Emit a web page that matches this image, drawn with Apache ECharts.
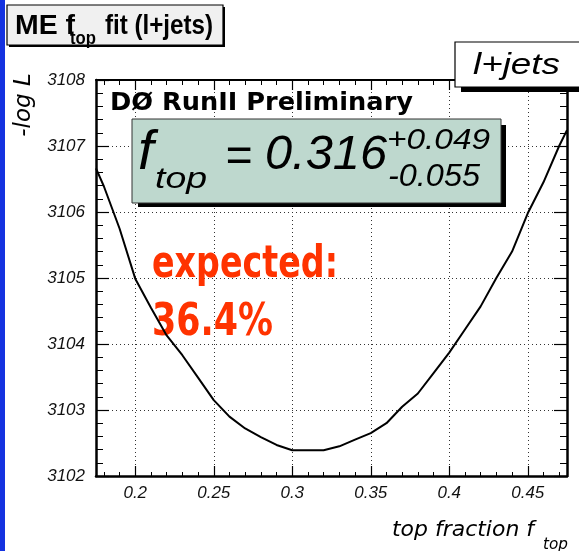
<!DOCTYPE html>
<html>
<head>
<meta charset="utf-8">
<script src="https://cdn.jsdelivr.net/npm/echarts@6/dist/echarts.min.js"></script>
<style>
  html, body { margin: 0; padding: 0; background: #fff; }
  #chart { width: 579px; height: 551px; }
</style>
</head>
<body>
<div id="chart"></div>
<script>
// Likelihood scan: -log L versus the top fraction f_top (l+jets channel)
const fTop = [0.175, 0.18, 0.19, 0.20, 0.21, 0.22, 0.23, 0.24, 0.25, 0.26, 0.27, 0.28, 0.29,
              0.30, 0.31, 0.32, 0.33, 0.34, 0.35, 0.36, 0.37, 0.38, 0.39, 0.40, 0.41, 0.42,
              0.43, 0.44, 0.45, 0.46, 0.47, 0.475];
const negLogL = [3106.66, 3106.39, 3105.75, 3104.99, 3104.55, 3104.13, 3103.83, 3103.49, 3103.15,
                 3102.90, 3102.72, 3102.59, 3102.47, 3102.39, 3102.39, 3102.39, 3102.45, 3102.55,
                 3102.65, 3102.80, 3103.05, 3103.25, 3103.56, 3103.87, 3104.22, 3104.57, 3105.00,
                 3105.40, 3105.98, 3106.45, 3107.00, 3107.24];

const xRange = [0.175, 0.475];
const yRange = [3102, 3108];
const xTickLabels = [0.2, 0.25, 0.3, 0.35, 0.4, 0.45];
const yTickLabels = [3102, 3103, 3104, 3105, 3106, 3107, 3108];
const xMinorTicks = [0.18, 0.19, 0.21, 0.22, 0.23, 0.24, 0.26, 0.27, 0.28, 0.29, 0.31, 0.32,
                     0.33, 0.34, 0.36, 0.37, 0.38, 0.39, 0.41, 0.42, 0.43, 0.44, 0.46, 0.47];

const chart = echarts.init(document.getElementById('chart'), null, { renderer: 'canvas' });

// text helper: squeeze/stretch a string horizontally to a given width (null keeps natural width)
const measureCtx = document.createElement('canvas').getContext('2d');
function fitText(str, font, left, cy, width, fill, z) {
  measureCtx.font = font;
  const w = measureCtx.measureText(str).width || 1;
  return {
    type: 'text', x: left, y: cy, scaleX: width ? width / w : 1, z: z || 10,
    style: { text: str, font: font, fill: fill || '#000', align: 'left', verticalAlign: 'middle' }
  };
}

const HELV_I = '"Liberation Sans", Arial, Helvetica, sans-serif';
const COMIC = '"Comic Sans MS", "DejaVu Sans", sans-serif';
const dotted = { type: [1, 3], color: '#333', width: 1 };

const baseX = { type: 'value', min: xRange[0], max: xRange[1], gridIndex: 0 };
const baseY = { type: 'value', min: yRange[0], max: yRange[1], interval: 1, gridIndex: 0 };

const option = {
  animation: false,
  backgroundColor: '#fff',
  grid: { left: 96, right: 12, top: 80, bottom: 75, containLabel: false },
  xAxis: [
    Object.assign({}, baseX, {
      position: 'bottom',
      axisLine: { show: true, onZero: false, lineStyle: { color: '#000', width: 2.5 } },
      axisTick: { show: true, inside: true, length: 10, customValues: xTickLabels, lineStyle: { color: '#000', width: 1.2 } },
      axisLabel: {
        show: true, customValues: xTickLabels, margin: 9, color: '#111',
        fontFamily: HELV_I, fontStyle: 'italic', fontSize: 17,
        formatter: v => String(+v.toFixed(3))
      },
      splitLine: { show: true, lineStyle: dotted }
    }),
    Object.assign({}, baseX, {
      position: 'bottom',
      axisLine: { show: false, onZero: false },
      axisTick: { show: true, inside: true, length: 4, customValues: xMinorTicks, lineStyle: { color: '#000', width: 1 } },
      axisLabel: { show: false },
      splitLine: { show: false }
    }),
    Object.assign({}, baseX, {
      position: 'top',
      axisLine: { show: true, onZero: false, lineStyle: { color: '#000', width: 2 } },
      axisTick: { show: true, inside: true, length: 10, customValues: xTickLabels, lineStyle: { color: '#000', width: 1.2 } },
      axisLabel: { show: false },
      splitLine: { show: false }
    }),
    Object.assign({}, baseX, {
      position: 'top',
      axisLine: { show: false, onZero: false },
      axisTick: { show: true, inside: true, length: 5, customValues: xMinorTicks, lineStyle: { color: '#000', width: 1 } },
      axisLabel: { show: false },
      splitLine: { show: false }
    })
  ],
  yAxis: [
    Object.assign({}, baseY, {
      position: 'left',
      axisLine: { show: true, onZero: false, lineStyle: { color: '#000', width: 2.5 } },
      axisTick: { show: true, inside: true, length: 13, lineStyle: { color: '#000', width: 1.2 } },
      minorTick: { show: true, splitNumber: 5, length: 7, lineStyle: { color: '#000', width: 1 } },
      axisLabel: {
        show: true, margin: 11, color: '#111',
        fontFamily: HELV_I, fontStyle: 'italic', fontSize: 17,
        formatter: v => (yTickLabels.indexOf(v) >= 0 ? String(v) : '')
      },
      splitLine: { show: true, lineStyle: dotted }
    }),
    Object.assign({}, baseY, {
      position: 'right',
      axisLine: { show: true, onZero: false, lineStyle: { color: '#000', width: 2.5 } },
      axisTick: { show: true, inside: true, length: 13, lineStyle: { color: '#000', width: 1.2 } },
      minorTick: { show: true, splitNumber: 5, length: 7, lineStyle: { color: '#000', width: 1 } },
      axisLabel: { show: false },
      splitLine: { show: false }
    })
  ],
  series: [{
    type: 'line',
    xAxisIndex: 0, yAxisIndex: 0,
    data: fTop.map((x, i) => [x, negLogL[i]]),
    smooth: false,
    symbol: 'none',
    clip: true,
    z: 5,
    lineStyle: { color: '#000', width: 2 }
  }],
  graphic: [
    // blue border strip on the left edge
    { type: 'rect', shape: { x: 0, y: 0, width: 5, height: 551 }, style: { fill: '#1432e0' }, z: 20 },

    // title box
    { type: 'rect', shape: { x: 9, y: 7, width: 216, height: 40 }, style: { fill: '#000' }, z: 20 },
    { type: 'rect', shape: { x: 7, y: 5, width: 216, height: 40 }, style: { fill: '#f0f0f0', stroke: '#000', lineWidth: 1.2 }, z: 21 },
    fitText('ME f', 'bold 27px ' + HELV_I, 15, 27, 60, '#000', 22),
    fitText('top', 'bold 19px ' + HELV_I, 70, 39, 26, '#000', 22),
    fitText('fit (l+jets)', 'bold 27px ' + HELV_I, 105, 27, 108, '#000', 22),

    // y-axis title
    {
      type: 'text', x: 24, y: 105, rotation: Math.PI / 2, z: 20,
      style: { text: '-log L', font: 'italic 23px "DejaVu Sans", sans-serif', fill: '#000', align: 'center', verticalAlign: 'middle' }
    },

    // x-axis title
    fitText('top fraction f', 'italic 22px "DejaVu Sans", sans-serif', 392, 530, 142, '#000', 20),
    fitText('top', 'italic 15px "DejaVu Sans", sans-serif', 543, 545, 25, '#000', 20),

    // channel label box
    { type: 'rect', shape: { x: 461, y: 46, width: 130, height: 46 }, style: { fill: '#000' }, z: 20 },
    { type: 'rect', shape: { x: 455, y: 42, width: 130, height: 45 }, style: { fill: '#fff', stroke: '#000', lineWidth: 1.2 }, z: 21 },
    fitText('l+jets', 'italic 30px ' + HELV_I, 473, 66, 87, '#000', 22),

    // experiment label
    fitText('DØ RunII Preliminary', 'bold 25px ' + COMIC, 110, 103, 303, '#000', 12),

    // fit result box
    { type: 'rect', shape: { x: 138, y: 125, width: 368, height: 82 }, style: { fill: '#000' }, z: 12 },
    { type: 'rect', shape: { x: 132, y: 119, width: 369, height: 84 }, style: { fill: '#bed8ce', stroke: '#333', lineWidth: 1 }, z: 13 },
    fitText('f', 'italic 56px ' + HELV_I, 138, 153, null, '#000', 14),
    fitText('top', 'italic 29px ' + HELV_I, 155, 180, 52, '#000', 14),
    fitText('=', 'italic 49px ' + HELV_I, 225, 157, 27, '#000', 14),
    fitText('0.316', 'italic 49px ' + HELV_I, 265, 155, 122, '#000', 14),
    fitText('+0.049', 'italic 30px ' + HELV_I, 387, 141, 103, '#000', 14),
    fitText('-0.055', 'italic 31px ' + HELV_I, 388, 177, 92, '#000', 14),

    // expected value
    fitText('expected:', 'bold 44px ' + COMIC, 152, 266, 186, '#ff3300', 3),
    fitText('36.4%', 'bold 44px ' + COMIC, 152, 324, 121, '#ff3300', 3)
  ]
};

chart.setOption(option);
</script>
</body>
</html>
